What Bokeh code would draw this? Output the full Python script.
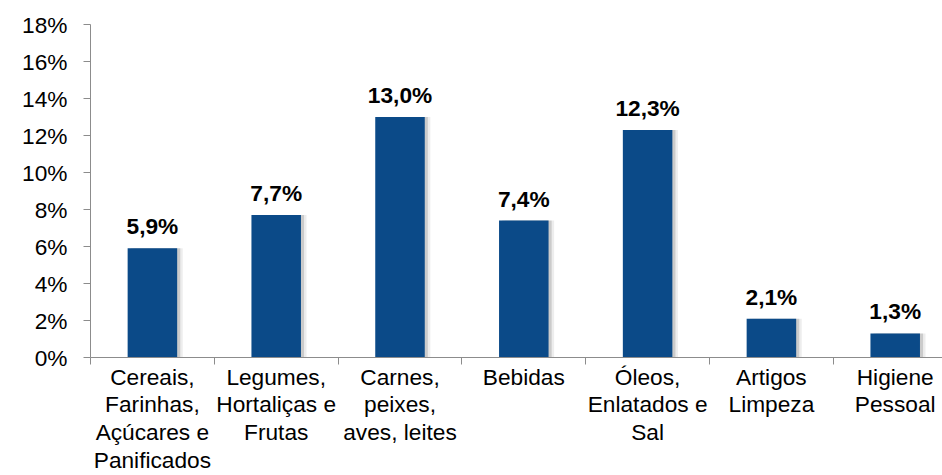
from bokeh.plotting import figure
from bokeh.models import Range1d, FixedTicker, PrintfTickFormatter, ColumnDataSource
from bokeh.transform import dodge
from bokeh.core.properties import value
from bokeh.embed import file_html
from bokeh.resources import INLINE

categories = [
    "Cereais,\nFarinhas,\nAçúcares e\nPanificados",
    "Legumes,\nHortaliças e\nFrutas",
    "Carnes,\npeixes,\naves, leites",
    "Bebidas",
    "Óleos,\nEnlatados e\nSal",
    "Artigos\nLimpeza",
    "Higiene\nPessoal",
]
values = [5.9, 7.7, 13.0, 7.4, 12.3, 2.1, 1.3]
y_ticks = [0, 2, 4, 6, 8, 10, 12, 14, 16, 18]

xs = list(range(len(categories)))
labels = [f"{v:.1f}".replace(".", ",") + "%" for v in values]
src = ColumnDataSource(dict(x=xs, top=values, label=labels))

FONT = "Liberation Sans"
FS = "22.7px"
BAR = "#0B4A88"
AXIS = "#8C8C8C"

p = figure(width=942, height=475, output_backend="svg", toolbar_location=None,
           x_range=Range1d(-0.5, 6.382), y_range=Range1d(0, 18),
           min_border_left=90, min_border_top=24, min_border_bottom=116, min_border_right=0)
p.outline_line_color = None
p.xgrid.visible = False
p.ygrid.visible = False
p.background_fill_color = "white"
p.border_fill_color = "white"

# soft shadow
p.vbar(x=dodge("x", 0.045, range=p.x_range), top="top", width=0.40, source=src,
       fill_color="#000000", fill_alpha=0.07, line_color=None)
p.vbar(x=dodge("x", 0.025, range=p.x_range), top="top", width=0.40, source=src,
       fill_color="#000000", fill_alpha=0.14, line_color=None)
p.vbar(x="x", top="top", width=0.40, source=src, fill_color=BAR, line_color=None)

p.text(x="x", y="top", text="label", source=src, text_font=value(FONT),
       text_font_style="bold", text_font_size=FS, text_align="center",
       text_baseline="alphabetic", y_offset=-22, text_color="black")

# y axis
ya = p.yaxis[0]
ya.ticker = FixedTicker(ticks=y_ticks)
ya.formatter = PrintfTickFormatter(format="%d%%")
ya.axis_line_color = AXIS
ya.major_tick_line_color = AXIS
ya.major_tick_out = 7
ya.major_tick_in = 0
ya.minor_tick_line_color = None
ya.major_label_text_font = FONT
ya.major_label_text_font_size = FS
ya.major_label_text_color = "black"
ya.major_label_standoff = 16

# x axis
xa = p.xaxis[0]
xa.ticker = FixedTicker(ticks=xs, minor_ticks=[i - 0.5 for i in range(len(categories) + 1)])
xa.major_label_overrides = {i: c for i, c in zip(xs, categories)}
xa.axis_line_color = AXIS
xa.major_tick_line_color = None
xa.minor_tick_line_color = AXIS
xa.minor_tick_out = 7
xa.minor_tick_in = 0
xa.major_label_text_font = FONT
xa.major_label_text_font_size = FS
xa.major_label_text_color = "black"
xa.major_label_text_line_height = 1.065
xa.major_label_standoff = -1

open("out.html", "w").write(file_html(p, INLINE))
